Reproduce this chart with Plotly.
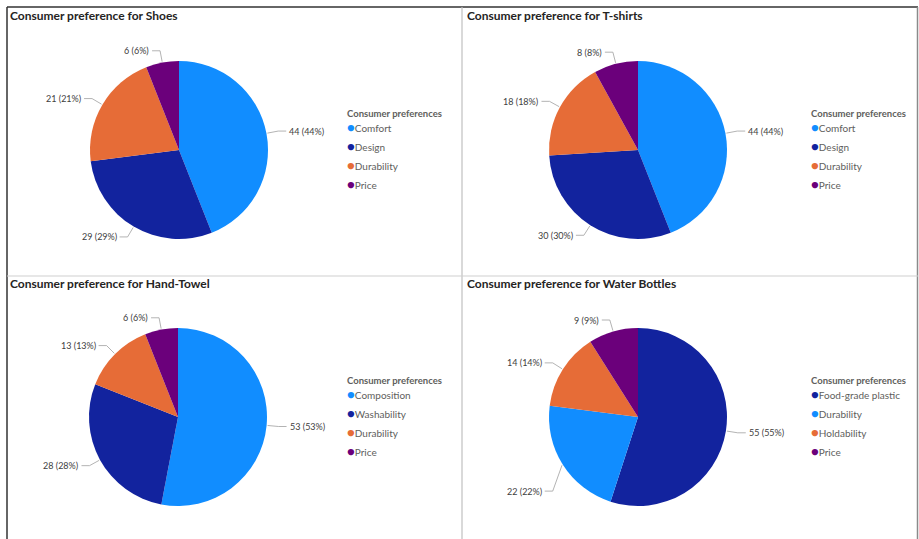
import math
import plotly.graph_objects as go

W, H = 919, 539

# ---------------- data ----------------
shoes_labels = ["Comfort", "Design", "Durability", "Price"]
shoes_values = [44, 29, 21, 6]

tshirt_labels = ["Comfort", "Design", "Durability", "Price"]
tshirt_values = [44, 30, 18, 8]

towel_labels = ["Composition", "Washability", "Durability", "Price"]
towel_values = [53, 28, 13, 6]

bottle_labels = ["Food-grade plastic", "Durability", "Holdability", "Price"]
bottle_values = [55, 22, 14, 9]

titles = ["Consumer preference for Shoes", "Consumer preference for T-shirts",
          "Consumer preference for Hand-Towel", "Consumer preference for Water Bottles"]

LIGHT, DARK, ORANGE, PURPLE = "#118DFF", "#12239E", "#E66C37", "#6B007B"
palettes = [[LIGHT, DARK, ORANGE, PURPLE], [LIGHT, DARK, ORANGE, PURPLE],
            [LIGHT, DARK, ORANGE, PURPLE], [DARK, LIGHT, ORANGE, PURPLE]]

# layout / style (pixel positions of panels)
panels = [
    dict(labels=shoes_labels, values=shoes_values, cx=179, cy=150, lx=345, ly=113, tx=8, ty=16),
    dict(labels=tshirt_labels, values=tshirt_values, cx=638, cy=150, lx=809, ly=113, tx=465, ty=16),
    dict(labels=towel_labels, values=towel_values, cx=178, cy=417, lx=345, ly=380, tx=8, ty=283),
    dict(labels=bottle_labels, values=bottle_values, cx=638, cy=417, lx=809, ly=380, tx=465, ty=283),
]
# extra vertical nudge of a data label (panel index, slice index) -> px
label_nudge = {(3, 1): 20}
R = 89


def px(x):
    return x / W


def py(y):
    return 1 - y / H


fig = go.Figure()
annotations = []
shapes = []

FONT = "Lato, 'Open Sans', sans-serif"

for i, p in enumerate(panels):
    cx, cy = p["cx"], p["cy"]
    colors = palettes[i]
    fig.add_trace(go.Pie(
        labels=p["labels"], values=p["values"], sort=False, direction="clockwise",
        rotation=0, marker=dict(colors=colors, line=dict(width=0)),
        textinfo="none", hoverinfo="label+value+percent", showlegend=False,
        domain=dict(x=[px(cx - R), px(cx + R)], y=[py(cy + R), py(cy - R)]),
    ))
    # data labels with leader lines, derived from the values
    total = sum(p["values"])
    cum = 0
    for j, (lab, v) in enumerate(zip(p["labels"], p["values"])):
        mid = (cum + v / 2) / total * 2 * math.pi
        cum += v
        s, c = math.sin(mid), math.cos(mid)
        x0, y0 = cx + (R + 1) * s, cy - (R + 1) * c
        x1, y1 = cx + (R + 12) * s, cy - (R + 12) * c
        y1 += label_nudge.get((i, j), 0)
        side = 1 if s >= 0 else -1
        x2 = x1 + side * 8
        shapes.append(dict(type="path", xref="paper", yref="paper",
                           path=f"M {px(x0)},{py(y0)} L {px(x1)},{py(y1)} L {px(x2)},{py(y1)}",
                           line=dict(color="#A0A0A0", width=0.8)))
        pct = round(v / total * 100)
        annotations.append(dict(
            x=px(x2 + side * 1), y=py(y1), xref="paper", yref="paper",
            text=f"{v} ({pct}%)", showarrow=False,
            xanchor="left" if side > 0 else "right", yanchor="middle",
            font=dict(family=FONT, size=9, color="#404040")))
    # title
    annotations.append(dict(x=px(p["tx"]), y=py(p["ty"]), xref="paper", yref="paper",
                            text=f"<b>{titles[i]}</b>", showarrow=False,
                            xanchor="left", yanchor="middle",
                            font=dict(family=FONT, size=12, color="#252423")))
    # legend
    annotations.append(dict(x=px(p["lx"]), y=py(p["ly"]), xref="paper", yref="paper",
                            text="<b>Consumer preferences</b>", showarrow=False,
                            xanchor="left", yanchor="middle",
                            font=dict(family=FONT, size=9.5, color="#605E5C")))
    for k, (lab, col) in enumerate(zip(p["labels"], colors)):
        annotations.append(dict(
            x=px(p["lx"]), y=py(p["ly"] + 14 + 19 * k), xref="paper", yref="paper",
            text=f"<span style='color:{col};font-size:13px'>●</span>{lab}", showarrow=False,
            xanchor="left", yanchor="middle",
            font=dict(family=FONT, size=10, color="#605E5C")))

# frame and separators
shapes += [
    dict(type="line", xref="paper", yref="paper", x0=px(7), x1=px(918), y0=py(7), y1=py(7),
         line=dict(color="#333333", width=1.5)),
    dict(type="line", xref="paper", yref="paper", x0=px(7), x1=px(7), y0=py(7), y1=0,
         line=dict(color="#333333", width=1.5)),
    dict(type="line", xref="paper", yref="paper", x0=px(917.5), x1=px(917.5), y0=py(7), y1=0,
         line=dict(color="#8A8A8A", width=1.5)),
    dict(type="line", xref="paper", yref="paper", x0=px(462), x1=px(462), y0=py(7), y1=0,
         line=dict(color="#C0C0C0", width=1.2)),
    dict(type="line", xref="paper", yref="paper", x0=px(7), x1=px(918), y0=py(276), y1=py(276),
         line=dict(color="#D0D0D0", width=1.2)),
]

fig.update_layout(
    width=W, height=H, margin=dict(l=0, r=0, t=0, b=0),
    paper_bgcolor="white", plot_bgcolor="white",
    annotations=annotations, shapes=shapes, showlegend=False,
)

fig.write_html("out.html")
